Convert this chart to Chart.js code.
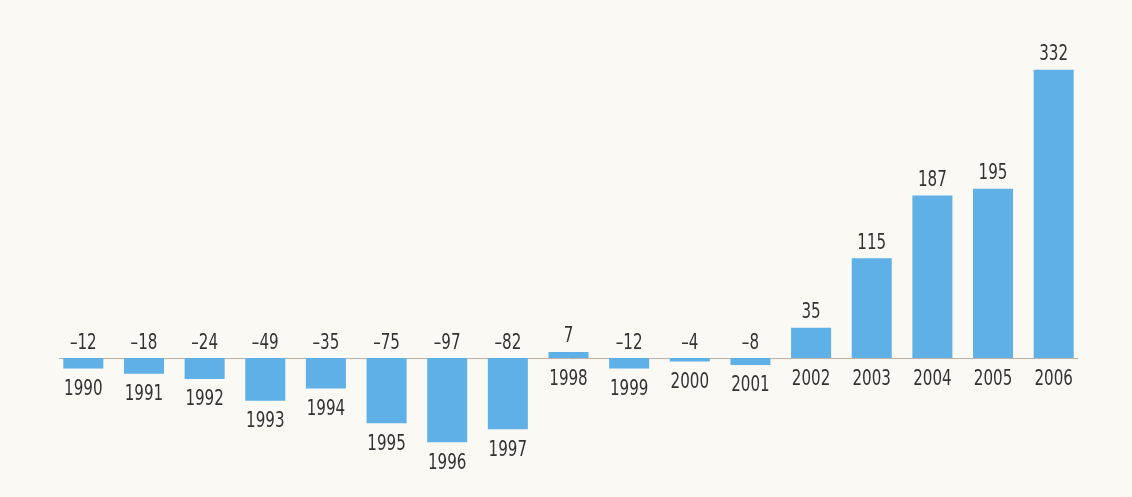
<!DOCTYPE html>
<html>
<head>
<meta charset="utf-8">
<script src="https://cdn.jsdelivr.net/npm/chart.js@4"></script>
<style>
  html, body { margin: 0; padding: 0; background: #fbf9f3; }
  #wrap { width: 1132px; height: 497px; }
</style>
</head>
<body>
<div id="wrap"><canvas id="balanceChart" width="1132" height="497"></canvas></div>
<script>
// years and yearly values
var years = ['1990', '1991', '1992', '1993', '1994', '1995', '1996', '1997', '1998',
    '1999', '2000', '2001', '2002', '2003', '2004', '2005', '2006'];
var values = [-12, -18, -24, -49, -35, -75, -97, -82, 7, -12, -4, -8, 35, 115, 187, 195, 332];

var labelFont = '21px "DejaVu Sans Condensed", "DejaVu Sans", sans-serif';

// narrow text: the original uses a condensed face, so squeeze it a bit
function narrowText(c, txt, x, y) {
    c.save();
    c.translate(x, y);
    c.scale(0.8, 1);
    c.fillText(txt, 0, 0);
    c.restore();
}

// zero line + value / year labels
var labelPlugin = {
    id: 'labels',
    beforeDatasetsDraw: function (chart) {
        var c = chart.ctx, y = chart.scales.y.getPixelForValue(0);
        c.save();
        c.strokeStyle = '#b8b0a8';
        c.lineWidth = 1;
        c.beginPath();
        c.moveTo(chart.chartArea.left + 6, y + 0.5);
        c.lineTo(chart.chartArea.right - 6, y + 0.5);
        c.stroke();
        c.restore();
    },
    afterDatasetsDraw: function (chart) {
        var c = chart.ctx;
        var ys = chart.scales.y;
        var meta = chart.getDatasetMeta(0);
        c.save();
        c.font = labelFont;
        c.fillStyle = '#333333';
        c.textAlign = 'center';
        c.textBaseline = 'middle';
        meta.data.forEach(function (bar, i) {
            var v = values[i];
            var top = ys.getPixelForValue(Math.max(v, 0));
            var bottom = ys.getPixelForValue(Math.min(v, 0));
            var txt = v < 0 ? '\u2013' + Math.abs(v) : String(v);
            narrowText(c, txt, bar.x, top - 15);
            narrowText(c, years[i], bar.x, bottom + 21);
        });
        c.restore();
    }
};

var ctx = document.getElementById('balanceChart').getContext('2d');
var myChart = new Chart(ctx, {
    type: 'bar',
    data: {
        labels: years,
        datasets: [{
            data: values,
            backgroundColor: '#5fb0e6',
            borderWidth: 0,
            barPercentage: 0.66,
            categoryPercentage: 1
        }]
    },
    options: {
        responsive: false,
        animation: false,
        layout: {
            padding: { top: 54, bottom: 26, left: 53, right: 48 }
        },
        plugins: {
            legend: { display: false },
            tooltip: { enabled: false }
        },
        scales: {
            x: { display: false },
            y: { display: false, min: -130, max: 350 }
        }
    },
    plugins: [labelPlugin]
});
</script>
</body>
</html>
